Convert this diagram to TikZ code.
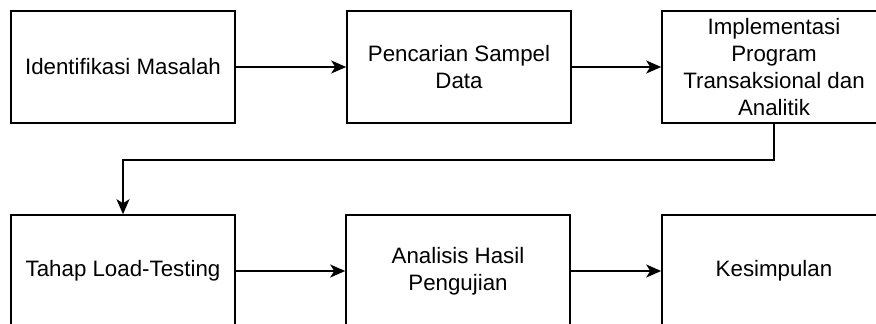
\documentclass[tikz,border=0pt]{standalone}
\usepackage{fontspec}
\setmainfont{Liberation Sans}
\usetikzlibrary{arrows.meta}
\begin{document}
\begin{tikzpicture}[x=1pt,y=-1pt,
  procbox/.style={draw=black, line width=1.6pt, minimum width=224pt, minimum height=112pt,
    inner sep=0pt, align=center, font=\fontsize{22.3}{26.7}\selectfont},
  arr/.style={line width=1.6pt, -{Stealth[length=15pt,width=13pt,inset=4pt]}}]
\useasboundingbox (0,0) rectangle (876,324);
\clip (0,0) rectangle (876,324);
\node[procbox] (b1) at (123,67) {Identifikasi Masalah};
\node[procbox] (b2) at (459,67) {Pencarian Sampel\\Data};
\node[procbox] (b3) at (774,67) {Implementasi\\Program\\Transaksional dan\\Analitik};
\node[procbox] (b4) at (123,271) {Tahap Load-Testing};
\node[procbox] (b5) at (458,271) {Analisis Hasil\\Pengujian};
\node[procbox] (b6) at (774,271) {Kesimpulan};
\coordinate (turn) at (774,160);
\draw[arr] (b1) -- (b2);
\draw[arr] (b2) -- (b3);
\draw[arr] (b3.south) -- (turn) -| (b4.north);
\draw[arr] (b4) -- (b5);
\draw[arr] (b5) -- (b6);
\end{tikzpicture}
\end{document}
